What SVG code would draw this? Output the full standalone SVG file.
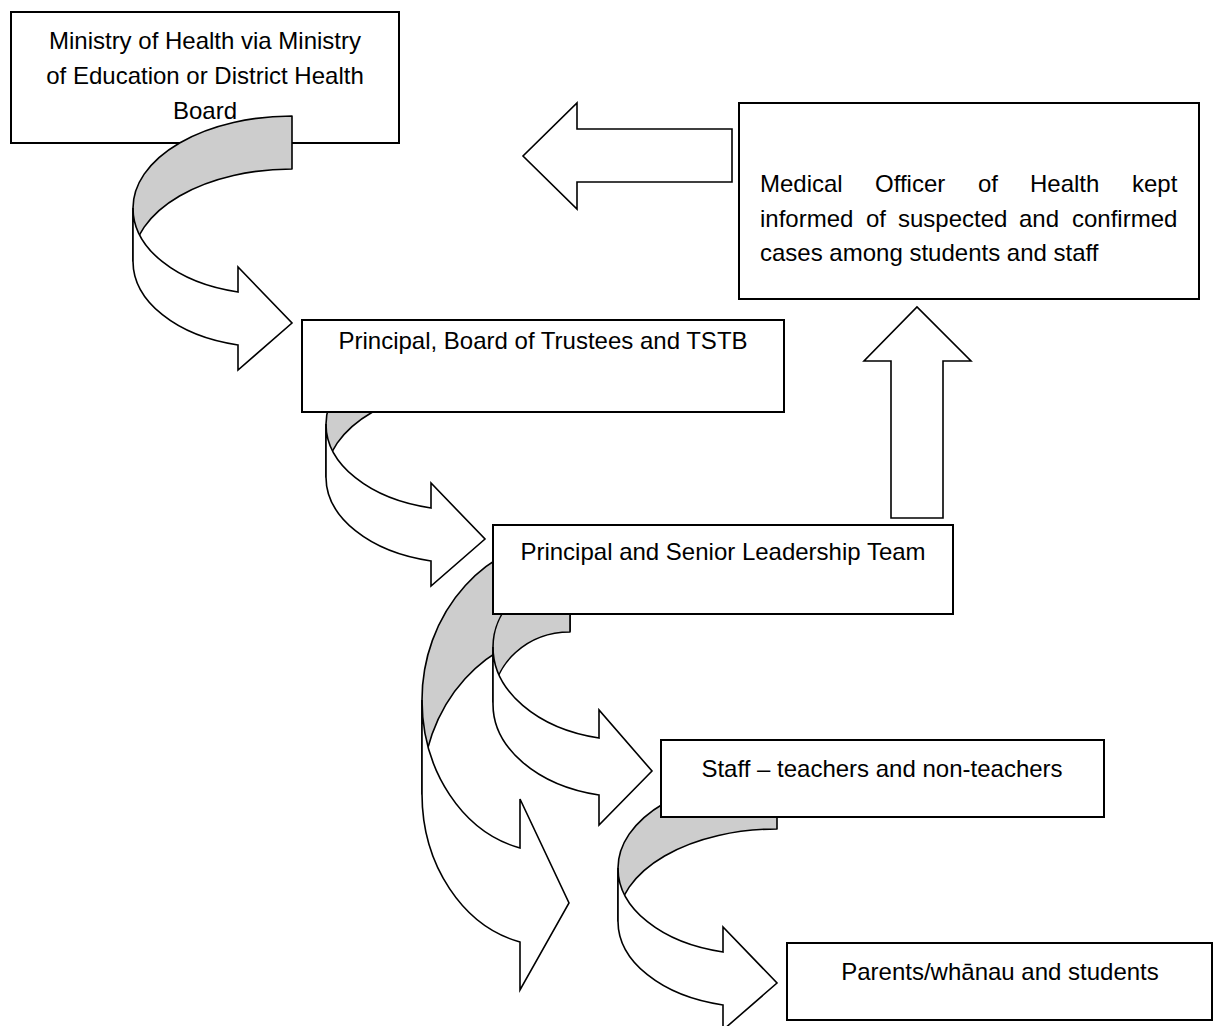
<svg xmlns="http://www.w3.org/2000/svg" width="1222" height="1026" viewBox="0 0 1222 1026">
<style>
.box{fill:#fff;stroke:#000;stroke-width:2}
.t{font-family:"Liberation Sans",Arial,sans-serif;font-size:24px;fill:#000}
.back{fill:#cdcdcd;stroke:#000;stroke-width:1.6;stroke-linejoin:round}
.front{fill:#fff;stroke:#000;stroke-width:1.6;stroke-linejoin:miter}
</style>
<defs>
<g id="curvedA">
<path class="back" d="M292,116 A159,92 0 0 0 133,208 L133,261 A159,92 0 0 1 292,169 Z"/>
<path class="front" d="M133,208 L133,261 A135,86 0 0 0 238,345 L238,370 L292,323 L238,267 L238,292 A135,86 0 0 1 133,208 Z"/>
</g>
</defs>
<rect width="1222" height="1026" fill="#fff"/>
<g id="node-ministry">
<rect class="box" x="11" y="12" width="388" height="131"/>
<text class="t" text-anchor="middle"><tspan x="205" y="49">Ministry of Health via Ministry</tspan><tspan x="205" y="84">of Education or District Health</tspan><tspan x="205" y="119">Board</tspan></text>
</g>
<g id="connectors">
<use href="#curvedA"/>
<use href="#curvedA" transform="translate(193,216)"/>
<g id="arrow-slt-wide">
<path class="back" d="M570,538 A148,162 0 0 0 422,700 L422,794 A148,162 0 0 1 570,631 Z"/>
<path class="front" d="M422,700 L422,794 A126,152 0 0 0 520,942 L520,990 L569,903 L520,799 L520,848 A126,152 0 0 1 422,700 Z"/>
</g>
<g id="arrow-slt-staff">
<path class="back" d="M570,577 A77,70 0 0 0 493,647 L493,702 A77,70 0 0 1 570,632 Z"/>
<path class="front" d="M493,647 L493,704 A135,93 0 0 0 599,795 L599,825 L652,771 L599,710 L599,738 A135,93 0 0 1 493,647 Z"/>
</g>
<use href="#curvedA" transform="translate(485,660)"/>
<path class="front" d="M732,129 L577,129 L577,103 L523,156 L577,209 L577,182 L732,182 Z"/>
<path class="front" d="M891,518 L891,361 L864,361 L917,307 L971,361 L943,361 L943,518 Z"/>
</g>
<g id="node-medical">
<rect class="box" x="739" y="103" width="460" height="196"/>
<text class="t"><tspan x="760" y="192">Medical</tspan><tspan x="875" y="192">Officer</tspan><tspan x="978" y="192">of</tspan><tspan x="1030" y="192">Health</tspan><tspan x="1132" y="192">kept</tspan><tspan x="760" y="227">informed</tspan><tspan x="866" y="227">of</tspan><tspan x="898" y="227">suspected</tspan><tspan x="1019" y="227">and</tspan><tspan x="1072" y="227">confirmed</tspan><tspan x="760" y="261">cases among students and staff</tspan></text>
</g>
<g id="node-board">
<rect class="box" x="302" y="320" width="482" height="92"/>
<text class="t" x="543" y="349" text-anchor="middle">Principal, Board of Trustees and TSTB</text>
</g>
<g id="node-slt">
<rect class="box" x="493" y="525" width="460" height="89"/>
<text class="t" x="723" y="560" text-anchor="middle">Principal and Senior Leadership Team</text>
</g>
<g id="node-staff">
<rect class="box" x="661" y="740" width="443" height="77"/>
<text class="t" x="882" y="777" text-anchor="middle">Staff – teachers and non-teachers</text>
</g>
<g id="node-parents">
<rect class="box" x="787" y="943" width="425" height="77"/>
<text class="t" x="1000" y="980" text-anchor="middle">Parents/whānau and students</text>
</g>
</svg>
